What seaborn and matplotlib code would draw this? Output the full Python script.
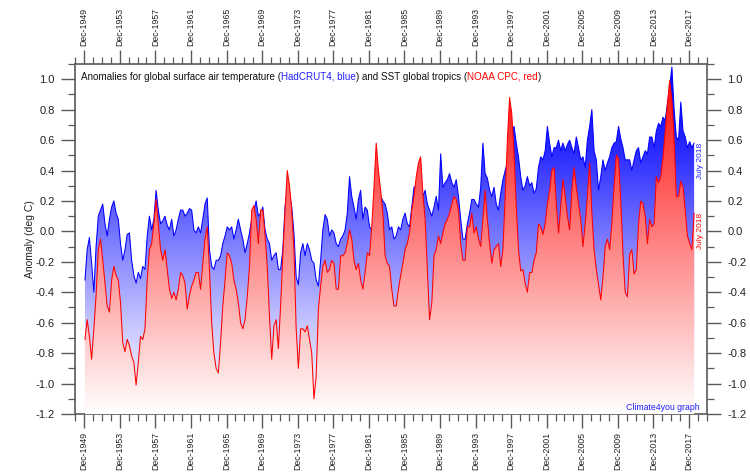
import numpy as np
import pandas as pd
import matplotlib
matplotlib.use("Agg")
import matplotlib.pyplot as plt
import seaborn as sns
from matplotlib.colors import LinearSegmentedColormap
from matplotlib.ticker import FixedLocator, MultipleLocator

sns.set_theme(style="ticks")
plt.rcParams["font.family"] = ["Liberation Sans", "DejaVu Sans"]
plt.rcParams["axes.unicode_minus"] = False

# Quarterly samples (Jan, Apr, Jul, Oct), Jan 1950 .. Jul 2018, deg C
hadcrut4_global = [
    -0.32, -0.12, -0.04, -0.21,  -0.40, -0.10, 0.10, 0.14,   0.18, 0.05, -0.03, 0.08,
    0.16, 0.20, 0.12, 0.08,      -0.08, -0.19, -0.12, -0.02, -0.01, -0.19, -0.29, -0.34,
    -0.27, -0.31, -0.23, -0.25,  -0.03, 0.10, 0.01, 0.08,    0.27, 0.14, 0.05, 0.07,
    0.10, 0.04, 0.01, 0.08,      -0.03, 0.01, 0.08, 0.14,    0.14, 0.10, 0.12, 0.15,
    0.14, 0.01, -0.01, 0.03,     -0.01, 0.08, 0.18, 0.22,    -0.12, -0.23, -0.25, -0.19,
    -0.19, -0.16, -0.08, -0.03,  0.03, 0.01, 0.03, -0.05,    0.01, 0.08, 0.01, -0.05,
    -0.14, -0.08, -0.01, 0.08,   0.14, 0.20, 0.10, 0.12,     0.16, 0.01, -0.05, -0.08,
    -0.19, -0.16, -0.14, -0.25,  -0.25, -0.12, 0.16, 0.28,   0.25, 0.16, -0.01, -0.30,
    -0.35, -0.14, -0.08, -0.16,  -0.08, -0.12, -0.19, -0.21, -0.32, -0.36, -0.19, 0.01,
    0.11, 0.08, -0.03, 0.01,     -0.01, -0.08, -0.10, -0.05, -0.03, 0.01, 0.12, 0.36,
    0.23, 0.16, 0.08, 0.21,      0.27, 0.08, 0.16, 0.14,     0.03, 0.01, 0.05, 0.30,
    0.32, 0.23, 0.20, 0.18,      0.12, 0.01, 0.03, -0.05,    -0.03, 0.03, 0.01, 0.08,
    0.12, 0.05, 0.03, 0.16,      0.29, 0.30, 0.35, 0.38,     0.23, 0.27, 0.18, 0.14,
    0.10, 0.16, 0.23, 0.14,      0.51, 0.29, 0.32, 0.34,     0.38, 0.32, 0.29, 0.34,
    0.23, 0.08, -0.05, -0.05,    0.05, 0.12, 0.21, 0.21,     0.18, 0.16, 0.29, 0.58,
    0.38, 0.35, 0.27, 0.23,      0.29, 0.18, 0.14, 0.25,     0.34, 0.40, 0.45, 0.55,
    0.65, 0.69, 0.58, 0.49,      0.36, 0.27, 0.30, 0.36,     0.30, 0.32, 0.25, 0.28,
    0.42, 0.49, 0.47, 0.53,      0.69, 0.58, 0.49, 0.55,     0.55, 0.60, 0.53, 0.58,
    0.53, 0.57, 0.60, 0.55,      0.51, 0.62, 0.55, 0.47,     0.49, 0.42, 0.60, 0.69,
    0.80, 0.53, 0.47, 0.27,      0.36, 0.47, 0.40, 0.45,     0.49, 0.55, 0.58, 0.59,
    0.69, 0.61, 0.55, 0.47,      0.47, 0.47, 0.40, 0.47,     0.53, 0.55, 0.45, 0.49,
    0.53, 0.51, 0.62, 0.62,      0.55, 0.66, 0.71, 0.69,     0.75, 0.73, 0.84, 0.95,
    1.08, 0.80, 0.62, 0.60,      0.85, 0.66, 0.62, 0.55,     0.59, 0.55, 0.58,
]

sst_global_tropics = [
    -0.71, -0.58, -0.69, -0.84,  -0.64, -0.42, -0.12, -0.05, -0.19, -0.34, -0.49, -0.53,
    -0.32, -0.23, -0.29, -0.32,  -0.47, -0.73, -0.79, -0.71, -0.75, -0.82, -0.86, -1.01,
    -0.86, -0.69, -0.71, -0.64,  -0.32, -0.12, -0.08, 0.05,  0.21, 0.05, -0.12, -0.19,
    -0.12, -0.25, -0.38, -0.44,  -0.40, -0.45, -0.38, -0.27, -0.29, -0.34, -0.51, -0.42,
    -0.36, -0.32, -0.27, -0.27,  -0.38, -0.21, -0.05, 0.03,  -0.25, -0.60, -0.80, -0.90,
    -0.93, -0.73, -0.49, -0.32,  -0.14, -0.16, -0.21, -0.32, -0.38, -0.47, -0.60, -0.64,
    -0.58, -0.43, -0.23, 0.14,   0.17, 0.08, -0.08, 0.14,    0.14, -0.03, -0.23, -0.56,
    -0.84, -0.62, -0.58, -0.77,  -0.49, -0.16, 0.14, 0.40,   0.30, 0.14, -0.12, -0.64,
    -0.90, -0.64, -0.64, -0.66,  -0.62, -0.71, -0.80, -1.10, -0.95, -0.51, -0.36, -0.23,
    -0.19, -0.27, -0.25, -0.19,  -0.21, -0.38, -0.38, -0.16, -0.16, -0.14, -0.08, 0.01,
    -0.05, -0.19, -0.25, -0.21,  -0.32, -0.38, -0.27, -0.14, -0.16, 0.03, 0.29, 0.58,
    0.40, 0.27, 0.12, -0.16,     -0.21, -0.23, -0.38, -0.49, -0.49, -0.38, -0.29, -0.21,
    -0.12, -0.08, -0.01, 0.14,   0.23, 0.36, 0.45, 0.49,     0.25, 0.08, -0.25, -0.58,
    -0.47, -0.16, -0.12, -0.03,  -0.08, -0.01, 0.05, 0.08,   0.12, 0.18, 0.23, 0.21,
    0.14, -0.08, -0.19, -0.19,   0.03, 0.03, 0.12, -0.01,    0.03, -0.05, -0.10, 0.08,
    0.27, 0.08, -0.08, -0.21,    -0.12, -0.10, -0.08, -0.23, -0.12, 0.23, 0.60, 0.88,
    0.77, 0.51, 0.16, -0.12,     -0.26, -0.25, -0.34, -0.40, -0.27, -0.27, -0.19, -0.14,
    0.05, 0.03, -0.02, 0.05,     0.18, 0.27, 0.40, 0.42,     0.18, -0.01, 0.16, 0.34,
    0.23, 0.10, 0.01, 0.27,      0.42, 0.29, 0.18, 0.08,     -0.10, 0.05, 0.23, 0.45,
    0.12, -0.12, -0.25, -0.35,   -0.45, -0.30, -0.10, -0.05, -0.12, 0.05, 0.30, 0.50,
    0.48, 0.20, -0.15, -0.40,    -0.43, -0.15, -0.12, -0.28, -0.25, 0.05, 0.20, 0.18,
    0.10, -0.08, 0.08, 0.03,     0.05, 0.36, 0.32, 0.36,     0.49, 0.66, 0.84, 0.99,
    0.86, 0.60, 0.23, 0.23,      0.33, 0.29, 0.14, -0.03,    -0.08, -0.12, 0.12,
]

x_tick_labels = ["Dec-1949", "Dec-1953", "Dec-1957", "Dec-1961", "Dec-1965", "Dec-1969",
                 "Dec-1973", "Dec-1977", "Dec-1981", "Dec-1985", "Dec-1989", "Dec-1993",
                 "Dec-1997", "Dec-2001", "Dec-2005", "Dec-2009", "Dec-2013", "Dec-2017"]

# decimal-year time axis (Jan 1950 = 1950.0)
t = 1950.0 + 0.25 * np.arange(len(hadcrut4_global))
df = pd.DataFrame({"t": t, "hadcrut4": hadcrut4_global, "sst": sst_global_tropics})

Y_LO, Y_HI = -1.2, 1.1
X_LO, X_HI = 1948.88, 2019.95

fig = plt.figure(figsize=(7.5, 4.75), dpi=100)
ax = fig.add_axes([0.1, 0.1284, 0.8427, 0.7369])
ax.set_facecolor("white")


def gradient_area(x, y, colors, z):
    band = ax.fill_between(x, y, Y_LO, facecolor="none", edgecolor="none", zorder=z)
    cmap = LinearSegmentedColormap.from_list("ramp", colors)
    ramp = np.linspace(0, 1, 256).reshape(-1, 1)
    img = ax.imshow(ramp, cmap=cmap, origin="lower", aspect="auto",
                    extent=[X_LO, X_HI, Y_LO, Y_HI], zorder=z, interpolation="bilinear")
    img.set_clip_path(band.get_paths()[0], ax.transData)


gradient_area(df["t"], df["hadcrut4"], ["#ffffff", "#c8c8ff", "#7a7aff", "#2a2aff", "#0000ff"], 1)
sns.lineplot(data=df, x="t", y="hadcrut4", color="#0000ff", linewidth=0.75,
             estimator=None, ax=ax, zorder=2)
gradient_area(df["t"], df["sst"], ["#ffffff", "#ff0000"], 3)
sns.lineplot(data=df, x="t", y="sst", color="#ff0000", linewidth=0.75,
             estimator=None, ax=ax, zorder=4)

ax.set_xlim(X_LO, X_HI)
ax.set_ylim(Y_LO, Y_HI)

# axes: Dec ticks every 4 years, minor every year
major_x = [1949 + 4 * i + 11 / 12 for i in range(len(x_tick_labels))]
minor_x = [yr + 11 / 12 for yr in range(1948, 2020)]
ax.xaxis.set_major_locator(FixedLocator(major_x))
ax.xaxis.set_minor_locator(FixedLocator(minor_x))
ax.set_xticklabels(x_tick_labels, rotation=90, fontsize=6.3)
ax.yaxis.set_major_locator(MultipleLocator(0.2))
ax.yaxis.set_minor_locator(MultipleLocator(0.1))
ax.yaxis.set_major_formatter(plt.FuncFormatter(lambda v, p: f"{v:.1f}"))

edge = "#5a5a5a"
ax.tick_params(axis="x", which="both", top=True, bottom=True, labeltop=True,
               labelbottom=True, direction="out", color=edge, labelcolor="#222222", pad=3)
ax.tick_params(axis="y", which="both", left=True, right=True, labelleft=True,
               labelright=True, direction="out", color=edge, labelcolor="#222222",
               labelsize=8, pad=4.5)
ax.tick_params(which="major", length=10, width=1.0)
ax.tick_params(which="minor", length=5, width=0.9)
for s in ax.spines.values():
    s.set_visible(True)
    s.set_color(edge)
    s.set_linewidth(1.2)
ax.set_xlabel("")
ax.set_ylabel("")
ax.grid(False)

fig.text(30 / 750, 0.497, "Anomaly (deg C)", rotation=90, ha="center", va="center",
         fontsize=7.5, color="#222222")

# multi-coloured title line inside the plot
renderer = fig.canvas.get_renderer()
parts = [("Anomalies for global surface air temperature (", "#111111"),
         ("HadCRUT4, blue", "#2020ff"),
         (") and SST global tropics (", "#111111"),
         ("NOAA CPC, red", "#ff0000"),
         (")", "#111111")]
x_px, y_px = 81.0, 475 - 76.5
for txt, col in parts:
    tt = fig.text(x_px / 750, y_px / 475, txt, color=col, fontsize=7.1,
                  ha="left", va="center")
    x_px += tt.get_window_extent(renderer).width

ax.text(2019.2, 0.46, "July 2018", rotation=90, color="#2020ff", fontsize=6,
        ha="center", va="center", zorder=6)
ax.text(2019.2, 0.0, "July 2018", rotation=90, color="#ff0000", fontsize=6,
        ha="center", va="center", zorder=6)
ax.text(2019.15, -1.157, "Climate4you graph", color="#2020ff", fontsize=6.3,
        ha="right", va="center", zorder=6)

fig.savefig("out.png", dpi=100, facecolor="white")
